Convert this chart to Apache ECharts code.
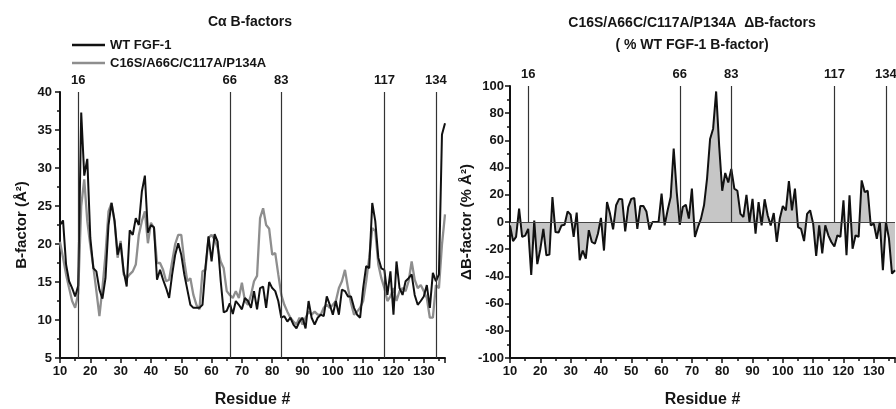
<!DOCTYPE html>
<html>
<head>
<meta charset="utf-8">
<script src="https://cdn.jsdelivr.net/npm/echarts@6/dist/echarts.min.js"></script>
<style>
html,body{margin:0;padding:0;background:#fff;}
#chart{width:896px;height:409px;}
</style>
</head>
<body>
<div id="chart"></div>
<script>
// Residue numbering starts at 10 (one value per residue)
const firstResidue = 10;
const wtB = [
  22.5, 23.1, 17.3, 15.1, 14.2, 13.1, 14.5, 37.3, 29.0, 31.2,
  20.8, 16.8, 16.4, 14.0, 12.8, 15.5, 22.5, 25.4, 23.0, 18.6,
  20.1, 16.4, 14.4, 21.8, 21.2, 23.4, 22.5, 26.9, 29.0, 21.5,
  22.5, 22.2, 15.3, 16.6, 15.3, 14.2, 12.9, 16.0, 18.6, 20.1,
  18.6, 16.0, 14.0, 12.0, 11.6, 11.6, 11.6, 12.0, 17.0, 21.0,
  17.7, 21.3, 20.3, 15.2, 11.0, 11.2, 12.2, 10.8, 12.5, 12.0,
  11.4, 12.9, 12.5, 11.6, 13.8, 11.4, 14.2, 14.4, 11.6, 15.0,
  14.2, 13.8, 12.5, 10.3, 10.5, 9.8, 10.3, 9.4, 8.9, 9.8,
  10.3, 8.9, 12.5, 10.3, 9.4, 10.3, 10.7, 10.5, 13.1, 12.0,
  10.7, 12.5, 10.7, 14.0, 13.8, 13.1, 13.1, 11.6, 10.7, 10.3,
  14.2, 17.1, 16.8, 25.4, 23.0, 18.2, 16.8, 16.6, 13.3, 16.4,
  10.7, 17.7, 14.2, 13.3, 15.1, 15.5, 16.0, 13.3, 12.0, 12.5,
  13.1, 14.6, 11.6, 16.2, 15.1, 16.0, 34.4, 35.9
];
const mutB = [
  20.3, 18.2, 16.0, 14.2, 12.5, 11.6, 13.5, 25.0, 28.5, 23.0,
  19.8, 17.0, 13.8, 10.5, 14.2, 18.6, 24.3, 25.4, 23.0, 18.2,
  20.4, 16.0, 15.5, 16.0, 16.4, 17.3, 21.2, 23.0, 24.3, 20.1,
  22.8, 22.1, 17.5, 17.5, 16.6, 15.1, 15.3, 17.7, 20.0, 21.2,
  21.2, 17.7, 15.1, 15.5, 13.3, 12.0, 11.4, 16.4, 16.6, 20.8,
  21.2, 20.6, 19.5, 17.7, 16.8, 13.8, 13.3, 12.9, 13.8, 12.9,
  14.9, 12.5, 12.0, 13.3, 15.1, 15.8, 23.4, 24.7, 22.5, 22.0,
  18.6, 18.8, 16.0, 13.3, 12.0, 11.1, 10.3, 9.8, 9.4, 10.3,
  9.4, 10.3, 11.1, 10.7, 11.1, 10.7, 10.7, 11.6, 12.0, 11.6,
  12.0, 12.5, 14.2, 15.1, 16.6, 14.2, 12.2, 10.7, 11.1, 11.6,
  12.5, 15.1, 18.2, 22.1, 21.7, 17.3, 15.5, 14.2, 12.5, 13.1,
  14.2, 12.5, 13.8, 14.2, 13.8, 15.1, 17.7, 15.3, 14.2, 14.6,
  13.8, 12.9, 10.3, 10.3, 14.6, 14.2, 19.9, 23.9
];
const deltaB = [
  -2.5, -14, -11, 9.8, -11, -10, -5, -39, 1, -31,
  -20, -5, -24.5, -24, 18.4, -7.4, -7.8, -2.5, -2, 7.8,
  5.4, -11, 6.9, -28, -21, -27, -6, -14.7, -16, -8.6,
  3, -21, 14.7, 6, -5.4, 12.3, 17, 16.7, -6.9, 11,
  17, 17.6, -5, 11.8, 11.8, 7.8, -5.6, 0, 0, 0,
  20.8, -2.5, 8.6, 18.4, 54, 22, -2, 11, 12.7, 2.5,
  24.5, -11, -3.7, 2.5, 12.3, 31.9, 61, 68.6, 96, 56,
  23, 36, 29, 39, 24.5, 23, 6, 3.7, 20, 0,
  17, -8.6, 14.7, -2.5, 16.7, 5, -2.5, 6.6, -14.7, 2.5,
  11.8, 8.6, 30, 8.6, 24.5, -3.7, -5, -14, 6, 8.6,
  -1.2, -25, -2.5, -23, -2.5, -9.8, -14.7, -18, -9.8, -11,
  16, -24.5, 19.6, -19.6, -9.8, -11, 30.6, 22, 23, -2.5,
  -1.2, -12.3, 0, -35.5, 0, -12, -38, -35.5
];
const markerResidues = [16, 66, 83, 117, 134];
const seriesNames = ['WT FGF-1', 'C16S/A66C/C117A/P134A'];

const pair = arr => arr.map((v, i) => [firstResidue + i, v]);
const FONT = '"Liberation Sans", Arial, sans-serif';
const AX = '#111';
const TXT = '#151515';

function xAxisFor(gi) {
  return {
    gridIndex: gi, type: 'value', min: 10, max: 137, interval: 10,
    name: 'Residue #', nameLocation: 'middle', nameGap: 34,
    nameTextStyle: {fontFamily: FONT, fontWeight: 'bold', fontSize: 16, color: TXT},
    axisLine: {show: true, onZero: false, lineStyle: {color: AX, width: 2}},
    axisTick: {show: true, length: 5, lineStyle: {color: AX, width: 1.5}},
    minorTick: {show: true, splitNumber: 2, length: 3, lineStyle: {color: AX, width: 1.5}},
    splitLine: {show: false},
    axisLabel: {fontFamily: FONT, fontWeight: 'bold', fontSize: 13, color: TXT, margin: 7,
      showMaxLabel: false}
  };
}

const chart = echarts.init(document.getElementById('chart'), null, {renderer: 'canvas'});
const leftMarks = markerResidues.map(r => ({xAxis: r, name: String(r)}));
const rightMarks = markerResidues.map(r => [
  {coord: [r, 0], name: String(r)}, {coord: [r, 100]}
]);

chart.setOption({
  animation: false,
  backgroundColor: '#fff',
  grid: [
    {left: 60, top: 92, width: 385, height: 266, outerBoundsMode: 'none', containLabel: false},
    {left: 510, top: 86, width: 385, height: 272, outerBoundsMode: 'none', containLabel: false}
  ],
  xAxis: [xAxisFor(0), xAxisFor(1)],
  yAxis: [
    {
      gridIndex: 0, type: 'value', min: 5, max: 40, interval: 5,
      name: 'B-factor (Å²)', nameLocation: 'middle', nameGap: 31, nameRotate: 90,
      nameTextStyle: {fontFamily: FONT, fontWeight: 'bold', fontSize: 15, color: TXT},
      axisLine: {show: true, lineStyle: {color: AX, width: 2}},
      axisTick: {show: true, length: 5, lineStyle: {color: AX, width: 1.5}},
      minorTick: {show: true, splitNumber: 2, length: 3, lineStyle: {color: AX, width: 1.5}},
      splitLine: {show: false},
      axisLabel: {fontFamily: FONT, fontWeight: 'bold', fontSize: 13, color: TXT, margin: 8}
    },
    {
      gridIndex: 1, type: 'value', min: -100, max: 100, interval: 20,
      name: 'ΔB-factor (% Å²)', nameLocation: 'middle', nameGap: 34, nameRotate: 90,
      nameTextStyle: {fontFamily: FONT, fontWeight: 'bold', fontSize: 15, color: TXT},
      axisLine: {show: true, lineStyle: {color: AX, width: 2}},
      axisTick: {show: true, length: 5, lineStyle: {color: AX, width: 1.5}},
      minorTick: {show: true, splitNumber: 2, length: 3, lineStyle: {color: AX, width: 1.5}},
      splitLine: {show: false},
      axisLabel: {fontFamily: FONT, fontWeight: 'bold', fontSize: 13, color: TXT, margin: 6}
    }
  ],
  legend: {
    data: seriesNames, orient: 'vertical', left: 67, top: 33,
    itemWidth: 33, itemHeight: 2.5, itemGap: 4, icon: 'rect',
    textStyle: {fontFamily: FONT, fontWeight: 'bold', fontSize: 13, color: TXT, lineHeight: 14},
    selectedMode: false
  },
  graphic: [
    {type: 'text', x: 250, y: 22, silent: true,
     style: {text: 'Cα B-factors', fill: TXT, font: 'bold 14px ' + FONT,
             align: 'center', verticalAlign: 'middle', textAlign: 'center', textVerticalAlign: 'middle'}},
    {type: 'text', x: 692, y: 23, silent: true,
     style: {text: 'C16S/A66C/C117A/P134A  ΔB-factors', fill: TXT, font: 'bold 14px ' + FONT,
             align: 'center', verticalAlign: 'middle', textAlign: 'center', textVerticalAlign: 'middle'}},
    {type: 'text', x: 692, y: 45, silent: true,
     style: {text: '( % WT FGF-1 B-factor)', fill: TXT, font: 'bold 14px ' + FONT,
             align: 'center', verticalAlign: 'middle', textAlign: 'center', textVerticalAlign: 'middle'}}
  ],
  series: [
    {
      name: seriesNames[1], type: 'line', xAxisIndex: 0, yAxisIndex: 0,
      data: pair(mutB), showSymbol: false, symbol: 'none',
      lineStyle: {color: '#8e8e8e', width: 2.3}, itemStyle: {color: '#8e8e8e'}, z: 2
    },
    {
      name: seriesNames[0], type: 'line', xAxisIndex: 0, yAxisIndex: 0,
      data: pair(wtB), showSymbol: false, symbol: 'none',
      lineStyle: {color: '#111', width: 2}, itemStyle: {color: '#111'}, z: 3,
      markLine: {
        silent: true, symbol: ['none', 'none'], animation: false,
        lineStyle: {color: '#333', width: 1.2, type: 'solid'},
        label: {show: true, position: 'end', formatter: '{b}', distance: 5,
          fontFamily: FONT, fontWeight: 'bold', fontSize: 13, color: TXT},
        emphasis: {disabled: true},
        data: leftMarks
      }
    },
    {
      name: 'delta', type: 'line', xAxisIndex: 1, yAxisIndex: 1,
      data: pair(deltaB), showSymbol: false, symbol: 'none',
      lineStyle: {color: '#111', width: 2}, itemStyle: {color: '#111'},
      areaStyle: {color: '#c6c6c6', opacity: 1, origin: 0}, z: 3,
      markLine: {
        silent: true, symbol: ['none', 'none'], animation: false,
        lineStyle: {color: '#333', width: 1.2, type: 'solid'},
        label: {show: true, position: 'end', formatter: '{b}', distance: 5,
          fontFamily: FONT, fontWeight: 'bold', fontSize: 13, color: TXT},
        emphasis: {disabled: true},
        data: rightMarks.concat([{yAxis: 0, name: '', label: {show: false}, lineStyle: {color: '#444', width: 1.2}}])
      }
    }
  ]
});
</script>
</body>
</html>
